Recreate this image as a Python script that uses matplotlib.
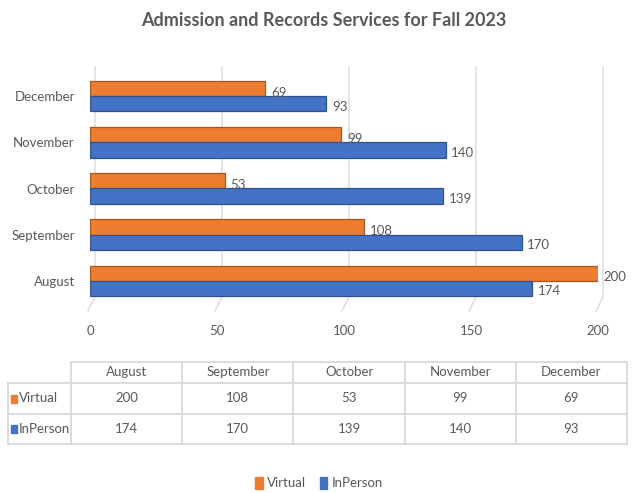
import matplotlib
matplotlib.use("Agg")
import matplotlib.pyplot as plt
from matplotlib.lines import Line2D
from matplotlib.patches import Rectangle, Patch

plt.rcParams['font.family'] = ['Lato', 'DejaVu Sans']

# data
months = ["August", "September", "October", "November", "December"]
virtual = [200, 108, 53, 99, 69]
in_person = [174, 170, 139, 140, 93]
series_names = ["Virtual", "InPerson"]
x_ticks = [0, 50, 100, 150, 200]

ORANGE = "#ED7D31"
BLUE = "#4472C4"
TXT = "#595959"
GRID = "#D9D9D9"
FS = 9.5

W, H = 637, 493
fig = plt.figure(figsize=(W / 100, H / 100), dpi=100)


def fx(x):
    return x / W


def fy(y):
    return 1 - y / H


# main axes (pixel box 90..598 x 73..304)
ax = fig.add_axes([fx(90), fy(304), fx(598) - fx(90), fy(73) - fy(304)])
ax.set_facecolor("none")
ax.set_xlim(0, 200)
ax.set_ylim(-0.5, len(months) - 0.5)
for s in ax.spines.values():
    s.set_visible(False)

pos = list(range(len(months)))
bh = 0.33
ax.barh([p + bh / 2 for p in pos], virtual, height=bh, color=ORANGE,
        edgecolor="#A9551C", linewidth=0.9, zorder=3, label="Virtual")
ax.barh([p - bh / 2 for p in pos], in_person, height=bh, color=BLUE,
        edgecolor="#2F528F", linewidth=0.9, zorder=3, label="InPerson")

for p, v, b in zip(pos, virtual, in_person):
    ax.annotate(str(v), (v, p + bh / 2), xytext=(4, -3), textcoords="offset points",
                ha="left", va="center", fontsize=FS, color=TXT, zorder=4)
    ax.annotate(str(b), (b, p - bh / 2), xytext=(4, -2), textcoords="offset points",
                ha="left", va="center", fontsize=FS, color=TXT, zorder=4)

ax.set_yticks(pos)
ax.set_yticklabels(months)
ax.set_xticks(x_ticks)
ax.set_xticklabels([str(t) for t in x_ticks])
ax.tick_params(axis="y", length=0, pad=11, labelsize=FS, labelcolor=TXT)
ax.tick_params(axis="x", length=0, pad=15, labelsize=FS, labelcolor=TXT)

# gridlines drawn on the back wall with a slanted floor part
x0 = ax.transData.transform((0, 0))[0]
for t in x_ticks:
    xp = ax.transData.transform((t, 0))[0] - x0 + 90
    fig.add_artist(Line2D([fx(xp + 5), fx(xp + 5), fx(xp - 2)],
                          [fy(67), fy(297), fy(311)], color=GRID, lw=1.0, zorder=-1))

# title
fig.text(fx(324), fy(20), "Admission and Records Services for Fall 2023",
         ha="center", va="center", fontsize=13, fontweight="bold", color=TXT)

# data table
col_x = [71 + 111.2 * i for i in range(len(months) + 1)]
row_y = [362, 383, 414, 444]
lc = dict(color=GRID, lw=1.3)
fig.add_artist(Line2D([fx(col_x[0]), fx(col_x[-1])], [fy(row_y[0]), fy(row_y[0])], **lc))
for ry in row_y[1:]:
    fig.add_artist(Line2D([fx(8), fx(col_x[-1])], [fy(ry), fy(ry)], **lc))
fig.add_artist(Line2D([fx(8), fx(8)], [fy(row_y[1]), fy(row_y[-1])], **lc))
for cx in col_x:
    fig.add_artist(Line2D([fx(cx), fx(cx)], [fy(row_y[0]), fy(row_y[-1])], **lc))

for i, m in enumerate(months):
    cx = (col_x[i] + col_x[i + 1]) / 2
    fig.text(fx(cx), fy((row_y[0] + row_y[1]) / 2), m, ha="center", va="center",
             fontsize=FS, color=TXT)
    fig.text(fx(cx), fy((row_y[1] + row_y[2]) / 2), str(virtual[i]), ha="center",
             va="center", fontsize=FS, color=TXT)
    fig.text(fx(cx), fy((row_y[2] + row_y[3]) / 2), str(in_person[i]), ha="center",
             va="center", fontsize=FS, color=TXT)

for k, (name, col) in enumerate(zip(series_names, [ORANGE, BLUE])):
    yc = (row_y[k + 1] + row_y[k + 2]) / 2
    fig.add_artist(Rectangle((fx(11), fy(yc + 4)), fx(6), fy(yc - 4) - fy(yc + 4),
                             color=col))
    fig.text(fx(19), fy(yc), name, ha="left", va="center", fontsize=FS, color=TXT)

# legend
handles = [Patch(color=ORANGE), Patch(color=BLUE)]
fig.legend(handles, series_names, loc="center", bbox_to_anchor=(fx(319), fy(483)),
           ncol=2, frameon=False, fontsize=FS, labelcolor=TXT, handlelength=0.6,
           handleheight=1.0, handletextpad=0.3, columnspacing=1.0)

fig.savefig("out.png", dpi=100)
